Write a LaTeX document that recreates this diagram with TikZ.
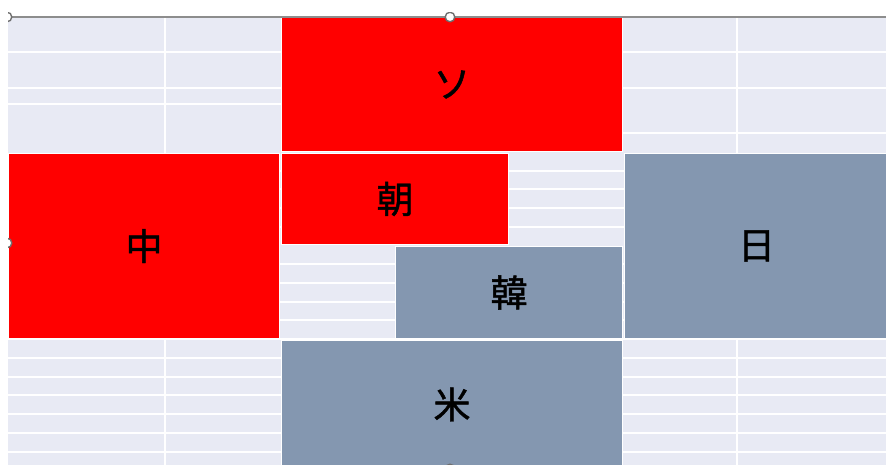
\documentclass[tikz,border=0pt]{standalone}
\usepackage{fontspec}
\newfontfamily\cjk[FakeBold=1.3]{Noto Sans CJK JP}
\definecolor{bgl}{HTML}{E8EAF4}
\definecolor{redbox}{HTML}{FF0000}
\definecolor{graybox}{HTML}{8497B0}
\definecolor{handlec}{HTML}{707070}
\begin{document}
\begin{tikzpicture}[x=1pt,y=-1pt,
  cell/.style={draw=white, line width=1pt, inner sep=0pt, anchor=north west,
    font=\cjk\fontsize{37}{37}\selectfont, text=black},
  redcell/.style={cell, fill=redbox},
  graycell/.style={cell, fill=graybox},
  gridline/.style={white, line width=1.1pt},
  handle/.style={draw=handlec, fill=white, line width=1.4pt}]
\useasboundingbox (0,0) rectangle (886,465);
\fill[white] (0,0) rectangle (886,465);
\fill[bgl] (8,17) rectangle (886,465);
% grid lines
\foreach \x in {165,737} \draw[gridline] (\x,17) -- (\x,465);
\foreach \y in {52,88} \draw[gridline] (8,\y) -- (886,\y);
\draw[gridline] (8,104) -- (281,104);
\draw[gridline] (622,133) -- (886,133);
\foreach \y in {171,189,208,227,264,283,302,320} \draw[gridline] (279,\y) -- (624,\y);
\foreach \y in {339,358,377,395,414,433,452} \draw[gridline] (8,\y) -- (886,\y);
% cells
\node[redcell, minimum width=341pt, minimum height=134pt] (so) at (281,17) {ソ};
\node[redcell, minimum width=271pt, minimum height=185pt] (chu) at (8,153) {中};
\node[redcell, minimum width=227pt, minimum height=91pt] (cho) at (281,153) {朝};
\node[graycell, minimum width=227pt, minimum height=92pt] (kan) at (395,246) {韓};
\node[graycell, minimum width=264pt, minimum height=185pt] (nichi) at (624,153) {日};
\node[graycell, minimum width=341pt, minimum height=128pt] (bei) at (281,340) {米};
% top frame line
\draw[handlec!80, line width=1.3pt] (8,17) -- (886,17);
% selection handles
\begin{scope}
\clip (8,13) rectangle (886,465);
\foreach \p in {(7,17),(450,17),(7,243),(450,469)} \draw[handle] \p circle (4.8pt);
\end{scope}
\end{tikzpicture}
\end{document}
